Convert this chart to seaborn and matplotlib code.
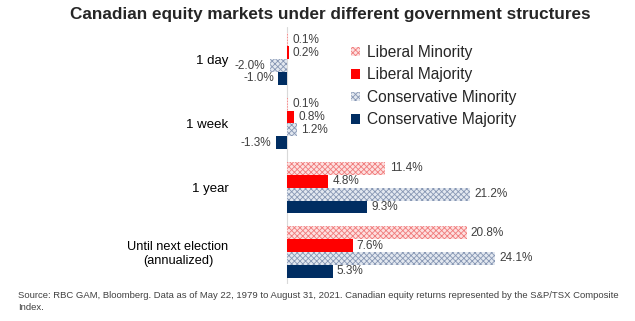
import matplotlib
matplotlib.use("Agg")
import matplotlib.pyplot as plt
import seaborn as sns
import pandas as pd

periods = ["1 day", "1 week", "1 year", "Until next election\n(annualized)"]
structures = ["Liberal Minority", "Liberal Majority", "Conservative Minority", "Conservative Majority"]
liberal_minority = [0.1, 0.1, 11.4, 20.8]
liberal_majority = [0.2, 0.8, 4.8, 7.6]
conservative_minority = [-2.0, 1.2, 21.2, 24.1]
conservative_majority = [-1.0, -1.3, 9.3, 5.3]

title = "Canadian equity markets under different government structures"
source = ("Source: RBC GAM, Bloomberg. Data as of May 22, 1979 to August 31, 2021. Canadian equity returns represented by the S&P/TSX Composite\n"
          "Index.")

series = [liberal_minority, liberal_majority, conservative_minority, conservative_majority]
rows = []
for s, vals in zip(structures, series):
    for p, v in zip(periods, vals):
        rows.append({"period": p, "value": v, "structure": s})
df = pd.DataFrame(rows)

sns.set_theme(style="white")
plt.rcParams["font.family"] = ["Liberation Sans", "DejaVu Sans"]
plt.rcParams["hatch.linewidth"] = 0.6

fig = plt.figure(figsize=(6.35, 3.21), dpi=100)
ax = fig.add_axes([0.373, 0.115, 0.509, 0.801])

face = ["#fde0e0", "#ff0000", "#e3e8f0", "#002d62"]
edge = ["#f07b7b", "#ff0000", "#8797b4", "#002d62"]
hatches = ["xxxxxx", None, "xxxxxx", None]

sns.barplot(data=df, y="period", x="value", hue="structure", hue_order=structures,
            order=periods, orient="h", palette=face, saturation=1, width=0.8,
            legend=False, ax=ax)

for i, cont in enumerate(ax.containers):
    for bar in cont:
        bar.set_facecolor(face[i])
        bar.set_edgecolor(edge[i])
        bar.set_linewidth(0)
        if hatches[i]:
            bar.set_hatch(hatches[i])
    ax.bar_label(cont, labels=[f"{v:.1f}%" for v in cont.datavalues],
                 padding=3, fontsize=8.5, color="#404040")

ax.set_xlim(-5.8, 31.6)
ax.set_ylim(3.5, -0.5)
ax.set_xlabel("")
ax.set_ylabel("")
ax.set_xticks([])
for sp in ax.spines.values():
    sp.set_visible(False)
ax.axvline(0, color="#d9d9d9", lw=0.8, zorder=0)
ax.tick_params(axis="y", length=0, pad=6, labelsize=9.5, labelcolor="#000000")
for lab in ax.get_yticklabels():
    lab.set_multialignment("center")
    if "\n" in lab.get_text():
        lab.set_fontsize(9.2)

ax.legend(ax.containers, structures, loc="upper left", bbox_to_anchor=(351 / 635, 1 - 45 / 321),
          bbox_transform=fig.transFigure, frameon=False, fontsize=11.2,
          handlelength=0.6, handleheight=0.6, handletextpad=0.4, labelspacing=0.48,
          borderaxespad=0, borderpad=0)

fig.text(330 / 635, 1 - 15 / 321, title, ha="center", va="center", fontsize=12.3, fontweight="bold")
fig.text(18 / 635, 1 - 291 / 321, source, ha="left", va="top", fontsize=6.8, color="#404040",
         linespacing=1.45)

fig.savefig("out.png", dpi=100)
